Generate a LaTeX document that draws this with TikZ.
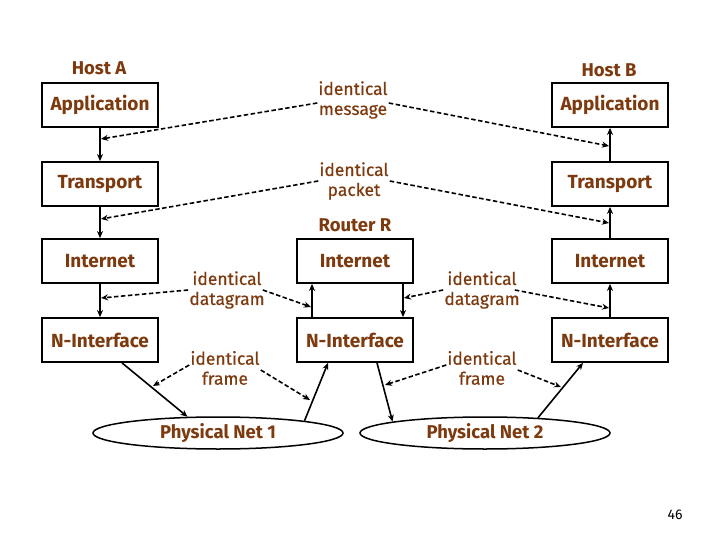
\documentclass[tikz,border=0pt]{standalone}
\usepackage{fontspec}
\setmainfont{Fira Sans}
\newfontfamily\idfont{Fira Sans}[FakeBold=0.6]
\usetikzlibrary{arrows.meta,shapes.geometric}
\definecolor{lbl}{RGB}{125,58,15}
\begin{document}
\begin{tikzpicture}[x=1pt,y=-1pt,
  layerbox/.style={draw,line width=1.8pt,minimum width=116pt,minimum height=44pt,inner sep=0pt,
    font=\bfseries\fontsize{19}{21}\selectfont,text=lbl},
  netell/.style={draw,ellipse,line width=1.5pt,minimum width=250pt,minimum height=32pt,inner sep=0pt,
    font=\bfseries\fontsize{18.5}{21}\selectfont,text=lbl},
  hostlbl/.style={font=\bfseries\fontsize{18.5}{21}\selectfont,text=lbl},
  idlbl/.style={align=center,inner sep=1pt,font=\idfont\fontsize{17.5}{20}\selectfont,text=lbl},
  flow/.style={line width=1.6pt,-{Stealth[length=7pt,width=6pt]}},
  ident/.style={line width=1.6pt,dash pattern=on 4.5pt off 2.5pt,-{Stealth[length=7pt,width=6pt]}}
]
\useasboundingbox (0,0) rectangle (720,540);
% host labels
\node[hostlbl] (ha) at (99,68) {Host A};
\node[hostlbl] (hb) at (609,70) {Host B};
\node[hostlbl] (rr) at (355,225) {Router R};
% host A
\node[layerbox] (aA) at (100,105) {Application};
\node[layerbox] (aT) at (100,184) {Transport};
\node[layerbox] (aI) at (100,261) {Internet};
\node[layerbox] (aN) at (100,340) {N-Interface};
% host B
\node[layerbox] (bA) at (610,105) {Application};
\node[layerbox] (bT) at (610,184) {Transport};
\node[layerbox] (bI) at (610,261) {Internet};
\node[layerbox] (bN) at (610,340) {N-Interface};
% router
\node[layerbox] (rI) at (355,261) {Internet};
\node[layerbox] (rN) at (355,340) {N-Interface};
% networks
\node[netell] (p1) at (218,433) {Physical Net 1};
\node[netell] (p2) at (485,433) {Physical Net 2};
% vertical flows
\draw[flow] (aA) -- (aT);
\draw[flow] (aT) -- (aI);
\draw[flow] (aI) -- (aN);
\draw[flow] (bN) -- (bI);
\draw[flow] (bI) -- (bT);
\draw[flow] (bT) -- (bA);
\draw[flow] ([xshift=-43pt]rN.north) -- ([xshift=-43pt]rI.south);
\draw[flow] ([xshift=48pt]rI.south) -- ([xshift=48pt]rN.north);
% diagonal flows
\draw[flow] ([xshift=22pt]aN.south) -- (p1.152);
\draw[flow] (p1.8) -- ([xshift=-27pt]rN.south);
\draw[flow] ([xshift=22pt]rN.south) -- (p2.173);
\draw[flow] (p2.16) -- ([xshift=-27pt]bN.south);
% identical labels
\node[idlbl] (msg) at (353,100) {identical\\message};
\node[idlbl] (pkt) at (354,181) {identical\\packet};
\node[idlbl] (dgl) at (227,290) {identical\\datagram};
\node[idlbl] (dgr) at (482,290) {identical\\datagram};
\node[idlbl] (frl) at (225,368) {identical\\frame};
\node[idlbl] (frr) at (482,368) {identical\\frame};
% end points on the flows
\coordinate (emA) at (101,139);
\coordinate (emB) at (609,146);
\coordinate (epA) at (101,219);
\coordinate (epB) at (609,223);
\coordinate (edlA) at (101,298);
\coordinate (edlR) at (311,307);
\coordinate (edrR) at (404,298);
\coordinate (edrB) at (609,308);
\coordinate (eflA) at (153,386);
\coordinate (eflR) at (310,400);
\coordinate (efrR) at (385,385);
\coordinate (efrB) at (561,387);
% identical dashed arrows
\draw[ident] ([yshift=-3pt]msg.west) -- (emA);
\draw[ident] ([yshift=-3pt]msg.east) -- (emB);
\draw[ident] (pkt.west) -- (epA);
\draw[ident] (pkt.east) -- (epB);
\draw[ident] (dgl.west) -- (edlA);
\draw[ident] ([xshift=-3pt]dgl.east) -- (edlR);
\draw[ident] (dgr.west) -- (edrR);
\draw[ident] ([xshift=-6pt]dgr.east) -- (edrB);
\draw[ident] ([yshift=3pt]frl.west) -- (eflA);
\draw[ident] ([yshift=-2pt]frl.east) -- (eflR);
\draw[ident] ([yshift=3pt]frr.west) -- (efrR);
\draw[ident] ([yshift=-2pt]frr.east) -- (efrB);
% page number
\node[font=\fontsize{14}{16}\selectfont] (pg) at (675,515) {46};
\end{tikzpicture}
\end{document}
